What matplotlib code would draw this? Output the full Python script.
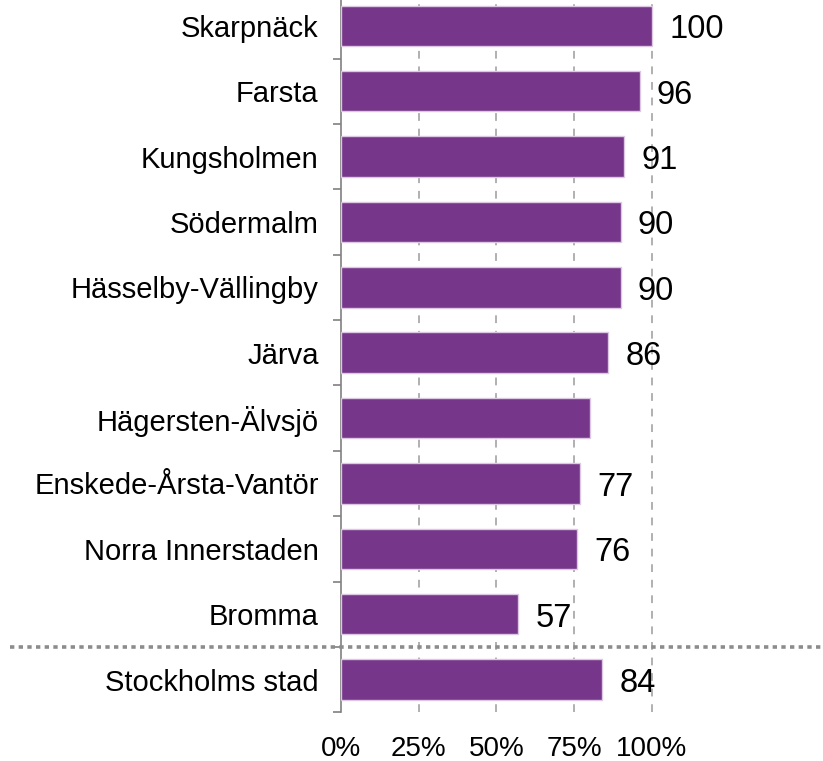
import numpy as np
import matplotlib.pyplot as plt

plt.rcParams['font.family'] = ['Liberation Sans', 'DejaVu Sans']

categories = ['Skarpnäck', 'Farsta', 'Kungsholmen', 'Södermalm', 'Hässelby-Vällingby',
              'Järva', 'Hägersten-Älvsjö', 'Enskede-Årsta-Vantör', 'Norra Innerstaden',
              'Bromma', 'Stockholms stad']
values = [100, 96, 91, 90, 90, 86, 80, 77, 76, 57, 84]
value_labels = ['100', '96', '91', '90', '90', '86', '', '77', '76', '57', '84']
xticks = [0, 25, 50, 75, 100]

fig = plt.figure(figsize=(8.23, 7.61), dpi=100)
ax = fig.add_axes([0.4143, 0.064, 0.5857, 0.945])

y = np.arange(len(categories))
ax.barh(y, values, height=0.62, color='#76368A', edgecolor='#DCC8E3', linewidth=1, zorder=3)

for yi, v, lab in zip(y, values, value_labels):
    if lab:
        ax.text(v + 5.5, yi + 0.06, lab, va='center', ha='left', fontsize=23.5, color='black')

ax.set_xlim(0, 155)
ax.set_ylim(len(categories) - 0.5, -0.5)
ax.set_yticks(y)
ax.set_yticklabels(categories, fontsize=21)
ax.set_yticks(np.arange(len(categories) + 1) - 0.5, minor=True)
ax.tick_params(axis='y', which='major', length=0, pad=16)
ax.tick_params(axis='y', which='minor', length=6, width=1.2, color='#808080', direction='out')

ax.set_xticks(xticks)
ax.set_xticklabels([f'{t}%' for t in xticks], fontsize=20)
ax.tick_params(axis='x', length=0, pad=17)
for t in xticks[1:]:
    ax.axvline(t, color='#B0B0B0', linestyle=(0, (4, 4)), linewidth=1.4, zorder=1)

for s in ['top', 'right', 'bottom']:
    ax.spines[s].set_visible(False)
ax.spines['left'].set_color('#808080')
ax.spines['left'].set_linewidth(1.2)

# separator line above the city total
ax.axhline(len(categories) - 1.5, xmin=-(341 - 10) / 482, xmax=1, color='#8C8C8C',
           linestyle=(0, (1.2, 1.2)), linewidth=2.6, clip_on=False, zorder=4)

fig.savefig('out.png', dpi=100)
